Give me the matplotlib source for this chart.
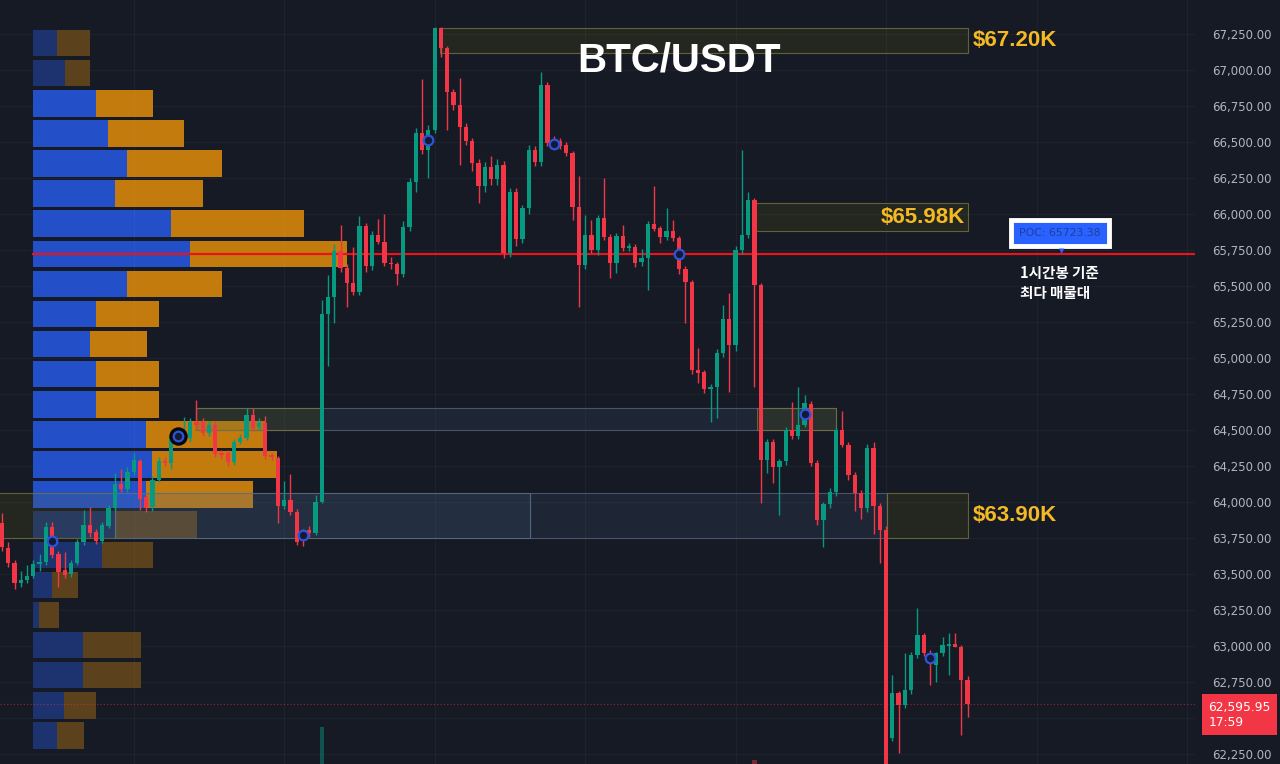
import matplotlib
matplotlib.use("Agg")
import matplotlib.pyplot as plt
from matplotlib.patches import Rectangle
import numpy as np

# ---------------- data ----------------
opens = [63854, 63681, 63576, 63438, 63458, 63486, 63569, 63583, 63826, 63639,
         63528, 63500, 63576, 63722, 63840, 63792, 63729, 63833, 63958, 64125,
         64090, 64208, 64285, 64035, 63965, 64153, 64285, 64271, 64451, 64465,
         64444, 64556, 64556, 64479, 64535, 64340, 64340, 64278, 64417, 64444,
         64604, 64521, 64549, 64326, 64306, 63972, 64014, 63931, 63785, 63806,
         63785, 64000, 65306, 65424, 65743, 65625, 65521, 65458, 65917, 65639,
         65854, 65806, 65660, 65653, 65583, 65910, 66222, 66563, 66444, 66583,
         67292, 67153, 66847, 66757, 66604, 66507, 66354, 66194, 66326, 66243,
         66340, 65729, 66153, 65826, 66042, 66444, 66361, 66896, 66500, 66507,
         66479, 66424, 66049, 65646, 65854, 65750, 65972, 65840, 65660, 65847,
         65764, 65771, 65667, 65694, 65931, 65903, 65840, 65882, 65833, 65618,
         65528, 64917, 64903, 64785, 64799, 65035, 65271, 65090, 65750, 65854,
         66097, 65507, 64292, 64417, 64243, 64285, 64500, 64458, 64535, 64681,
         64271, 63875, 63986, 64069, 64500, 64396, 64188, 64063, 63958, 64375,
         63972, 63806, 62361, 62674, 62590, 62694, 62938, 63076, 62951, 62868,
         62951, 63000, 63014, 62993, 62764]
highs = [63925, 63720, 63600, 63520, 63560, 63600, 63640, 63860, 63860, 63660,
         63650, 63600, 63740, 63945, 63965, 63810, 63860, 63980, 64200, 64229,
         64240, 64340, 64300, 64050, 64180, 64310, 64310, 64480, 64490, 64590,
         64580, 64708, 64580, 64560, 64560, 64360, 64360, 64440, 64470, 64653,
         64653, 64580, 64600, 64340, 64320, 64146, 64194, 63950, 63810, 63830,
         64049, 65400, 65576, 65792, 65924, 65650, 65771, 65986, 65940, 65880,
         65965, 66000, 65700, 65670, 65950, 66250, 66600, 66938, 66620, 67300,
         67300, 67170, 66870, 66944, 66630, 66530, 66380, 66360, 66400, 66380,
         66370, 66180, 66180, 66060, 66480, 66470, 66986, 66920, 66540, 66530,
         66500, 66440, 66264, 65993, 65958, 65990, 66250, 65860, 65870, 65924,
         65800, 65790, 65760, 65950, 66194, 65920, 66042, 65960, 65850, 65640,
         65540, 65069, 64920, 64820, 65060, 65368, 65451, 65780, 66444, 66150,
         66110, 65520, 64440, 64440, 64300, 64520, 64694, 64799, 64740, 64700,
         64290, 64000, 64100, 64520, 64632, 64420, 64210, 64080, 64400, 64420,
         63990, 63830, 62799, 62690, 62951, 62960, 63264, 63090, 62970, 62960,
         63060, 63090, 63090, 63010, 62790]
lows = [63660, 63550, 63396, 63410, 63440, 63470, 63520, 63560, 63610, 63410,
        63470, 63480, 63560, 63700, 63760, 63710, 63715, 63820, 63940, 64070,
        64070, 64190, 63945, 63930, 63940, 64140, 64250, 64230, 64430, 64440,
        64420, 64510, 64460, 64460, 64310, 64300, 64250, 64260, 64400, 64430,
        64490, 64500, 64300, 64290, 63854, 63950, 63910, 63700, 63694, 63760,
        63770, 63990, 64944, 65243, 65600, 65354, 65440, 65440, 65600, 65610,
        65790, 65640, 65620, 65507, 65560, 65880, 66150, 66420, 66250, 66560,
        67090, 66583, 66720, 66340, 66480, 66300, 66076, 66150, 66200, 66200,
        65694, 65700, 65780, 65800, 66000, 66330, 66330, 66470, 66460, 66450,
        66400, 65958, 65354, 65620, 65730, 65715, 65820, 65556, 65590, 65740,
        65740, 65630, 65640, 65472, 65880, 65800, 65820, 65810, 65580, 65243,
        64890, 64826, 64760, 64556, 64583, 65010, 64764, 65050, 65720, 65830,
        64799, 63993, 64200, 64132, 63910, 64260, 64440, 64440, 64520, 64250,
        63840, 63688, 63960, 64040, 64380, 64150, 63940, 63880, 63930, 63780,
        63576, 62100, 62340, 62257, 62570, 62670, 62920, 62930, 62729, 62750,
        62930, 62800, 62990, 62382, 62507]
closes = [63688, 63576, 63438, 63458, 63486, 63569, 63583, 63826, 63632, 63514,
          63493, 63576, 63722, 63840, 63785, 63729, 63840, 63958, 64125, 64090,
          64208, 64292, 64021, 63958, 64153, 64285, 64271, 64451, 64465, 64470,
          64556, 64535, 64479, 64535, 64333, 64326, 64278, 64417, 64444, 64604,
          64514, 64549, 64319, 64313, 63972, 64014, 63931, 63722, 63757, 63785,
          64000, 65306, 65424, 65743, 65625, 65521, 65458, 65917, 65639, 65854,
          65806, 65660, 65653, 65583, 65910, 66222, 66563, 66444, 66583, 67292,
          67153, 66847, 66757, 66604, 66507, 66354, 66194, 66326, 66243, 66340,
          65729, 66153, 65826, 66042, 66444, 66361, 66896, 66493, 66472, 66472,
          66424, 66049, 65646, 65854, 65750, 65972, 65840, 65660, 65847, 65764,
          65778, 65660, 65694, 65931, 65896, 65840, 65882, 65833, 65618, 65528,
          64917, 64896, 64785, 64799, 65035, 65271, 65090, 65750, 65854, 66097,
          65507, 64292, 64417, 64243, 64285, 64500, 64458, 64535, 64688, 64271,
          63875, 63986, 64069, 64500, 64396, 64188, 64063, 63958, 64375, 63972,
          63806, 62150, 62674, 62590, 62694, 62938, 63076, 62951, 62882, 62951,
          63007, 63014, 62993, 62764, 62596]

# volume profile (24 price rows, top to bottom)
profile_buy = [24, 32, 63, 75, 94, 82, 138, 157, 94, 63, 57, 63, 63, 113, 119, 113,
               82, 69, 19, 6, 50, 50, 31, 24]
profile_sell = [33, 25, 57, 76, 95, 88, 133, 157, 95, 63, 57, 63, 63, 120, 125, 107,
                82, 51, 26, 20, 58, 58, 32, 27]
profile_in_value_area = [False, False] + [True] * 14 + [False] * 8
profile_step = 209.0
poc_price = 65723.38
profile_top = poc_price + 7.5 * profile_step

# supply / demand zones (candle index range, price range)
zone_x0 = [69.9, 120.0, 31.0, 31.0, 120.4, -1.0, 18.0, 84.2, 141.1]
zone_x1 = [154.1, 154.1, 133.0, 51.0, 133.0, 18.0, 84.2, 141.1, 154.1]
zone_top = [67292, 66076, 64653, 64653, 64653, 64063, 64063, 64063, 64063]
zone_bot = [67118, 65882, 64500, 64500, 64500, 63750, 63750, 63750, 63750]
zone_kind = ["olive", "olive", "slate", "olive", "olive", "olive", "slate_light", "slate", "olive"]
zone_labels = ["$67.20K", "$65.98K", "$63.90K"]

marker_period = 20
marker_first = 8
highlight_marker = [28]

last_price = 62595.95
last_time = "17:59"
volume_idx = [51, 120, 141]
volume_vals = [37, 4, 29]

price_ticks = np.arange(62250, 67501, 250)
hidden_tick = 62500  # covered by the last-price tag

# ---------------- style ----------------
BG = "#161a25"
UP = "#089981"
DOWN = "#f23645"
GOLD = "#f5b923"
W, H = 1280, 764
PW = 1195

fig = plt.figure(figsize=(W / 100, H / 100), dpi=100, facecolor=BG)
ax_p = fig.add_axes([0, 0, PW / W, 1])
ax = fig.add_axes([0, 0, PW / W, 1], sharey=ax_p)
ax_v = fig.add_axes([0, 0, PW / W, 1], sharex=ax)
ax_p.set_facecolor(BG)
ax.patch.set_visible(False)
ax_v.patch.set_visible(False)
for a in (ax_p, ax, ax_v):
    for s in a.spines.values():
        s.set_visible(False)

n = len(opens)
idx = np.arange(n)
o = np.array(opens, float); c = np.array(closes, float)
hi = np.array(highs, float); lo = np.array(lows, float)

ax.set_xlim(-0.32, 190.27)
ax_p.set_xlim(-33, PW - 33)
ax_v.set_ylim(0, H)

# grid
for p in price_ticks:
    ax_p.axhline(p, color="white", alpha=0.035, lw=0.8, zorder=0)
for gx in range(21, 191, 24):
    ax.axvline(gx, color="white", alpha=0.035, lw=0.8, zorder=0)

# volume profile
centers = profile_top - (np.arange(len(profile_buy)) + 0.5) * profile_step
buy_cols = ["#2350c8" if v else "#1d3370" for v in profile_in_value_area]
sell_cols = ["#c27b0c" if v else "#5b421c" for v in profile_in_value_area]
ax_p.barh(centers, profile_buy, height=profile_step * 0.88, color=buy_cols, zorder=2)
ax_p.barh(centers, profile_sell, left=profile_buy, height=profile_step * 0.88,
          color=sell_cols, zorder=2)

# zones
zone_styles = {
    "olive": dict(fc=(120 / 255, 120 / 255, 0, 0.14), ec=(0.45, 0.45, 0.25, 0.8)),
    "slate": dict(fc=(80 / 255, 110 / 255, 150 / 255, 0.14), ec=(0.32, 0.39, 0.48, 0.8)),
    "slate_light": dict(fc=(80 / 255, 110 / 255, 150 / 255, 0.24), ec=(0.36, 0.43, 0.52, 0.9)),
}
for x0, x1, t, b, k in zip(zone_x0, zone_x1, zone_top, zone_bot, zone_kind):
    st = zone_styles[k]
    ax.add_patch(Rectangle((x0, b), x1 - x0, t - b, facecolor=st["fc"],
                           edgecolor=st["ec"], lw=0.8, zorder=1))

# zone labels
lab_font = dict(color=GOLD, fontsize=16, fontweight="bold",
                family=["Liberation Sans", "DejaVu Sans"])
ax.annotate(zone_labels[0], xy=(zone_x1[0], (zone_top[0] + zone_bot[0]) / 2),
            xytext=(3, 0), textcoords="offset points", ha="left", va="center",
            annotation_clip=False, **lab_font)
ax.annotate(zone_labels[1], xy=(zone_x1[1], (zone_top[1] + zone_bot[1]) / 2),
            xytext=(-2, 0), textcoords="offset points", ha="right", va="center",
            annotation_clip=False, **lab_font)
ax.annotate(zone_labels[2], xy=(zone_x1[8], (zone_top[8] + zone_bot[8]) / 2),
            xytext=(3, 0), textcoords="offset points", ha="left", va="center",
            annotation_clip=False, **lab_font)

# POC line & current price line
ax.axhline(poc_price, xmin=33 / PW, xmax=1, color="#e8141b", lw=1.6, zorder=3)
ax.axhline(last_price, color=DOWN, lw=0.8, ls=(0, (1, 2)), alpha=0.55, zorder=2)

# candles
up = c >= o
cols = np.where(up, UP, DOWN)
bottoms = np.minimum(o, c)
heights = np.maximum(np.abs(c - o), 7)
ax.vlines(idx, lo, hi, colors=cols, lw=1.0, zorder=4)
ax.bar(idx, heights, bottom=bottoms, width=0.68, color=cols, zorder=5)

# markers
m_idx = np.arange(marker_first, n, marker_period)
m_y = (o[m_idx] + c[m_idx]) / 2
for hi_i in highlight_marker:
    ax.scatter([hi_i], [(o[hi_i] + c[hi_i]) / 2], s=150, facecolor="#05070c",
               edgecolor="#05070c", zorder=6)
ax.scatter(m_idx, m_y, s=48, facecolor="#121a35", edgecolor="#2e55d8", lw=1.6, zorder=7)

# volume bars
vcols = [UP if closes[i] >= opens[i] else DOWN for i in volume_idx]
ax_v.bar(volume_idx, volume_vals, width=0.68, color=vcols, alpha=0.45, zorder=3)
ax_v.yaxis.set_visible(False)
ax_v.xaxis.set_visible(False)

# axes ticks
ax_p.xaxis.set_visible(False)
ax_p.yaxis.set_visible(False)
ax.xaxis.set_visible(False)
ax.yaxis.tick_right()
ax.set_yticks(price_ticks)
ax.set_yticklabels(["" if p == hidden_tick else f"{p:,.2f}" for p in price_ticks])
ax.tick_params(axis="y", length=0, pad=12.5, labelsize=8.5, labelcolor="#b2b5be")
ax.set_ylim(62180.6, 67486)

# current price tag
ax.annotate(f"{last_price:,.2f}\n{last_time}", xy=(1, last_price),
            xycoords=("axes fraction", "data"), xytext=(9.5, -7.5),
            textcoords="offset points", ha="left", va="center", color="white",
            fontsize=8.8, linespacing=1.2, annotation_clip=False,
            bbox=dict(boxstyle="square,pad=0.5", fc=DOWN, ec="none"))

# title
fig.text(679 / W, 1 - 61 / H, "BTC/USDT", color="white", fontsize=29,
         fontweight="bold", family=["Liberation Sans", "DejaVu Sans"],
         ha="center", va="center")

# POC tag
fig.text(1060 / W, 1 - 233 / H, f"POC: {poc_price:.2f}", color="#1f3f9e", fontsize=7.8,
         ha="center", va="center",
         bbox=dict(boxstyle="square,pad=0.75", fc="#2962ff", ec="white", lw=3.5))
fig.text(1062 / W, 1 - 251 / H, "\u25bc", color="#2962ff", fontsize=5,
         ha="center", va="center")
fig.text(1020 / W, 1 - 283 / H, "1시간봉 기준\n최다 매물대", color="white",
         fontsize=10.5, fontweight="bold", family=["Noto Sans CJK KR", "DejaVu Sans"],
         ha="left", va="center", linespacing=1.25)

fig.savefig("out.png", dpi=100, facecolor=BG)
